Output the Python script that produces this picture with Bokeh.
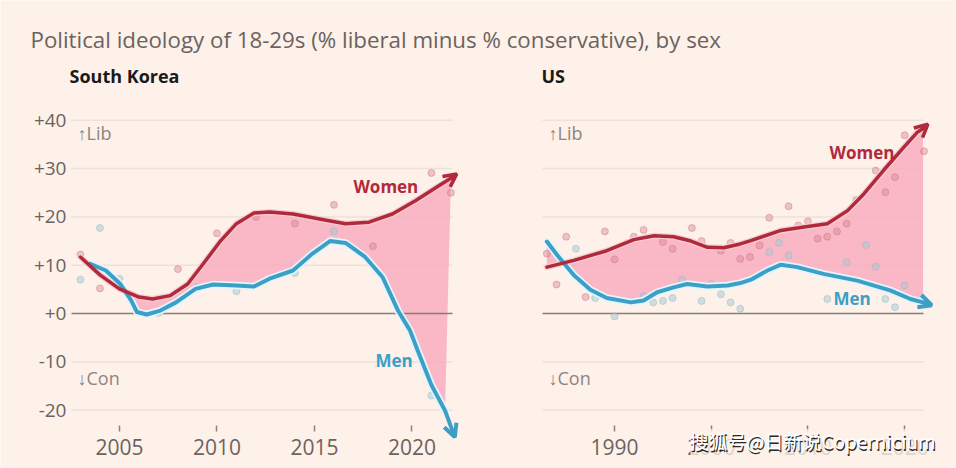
from bokeh.plotting import figure
from bokeh.models import Label, Arrow, OpenHead, FixedTicker, Range1d, LinearAxis

# ---------------- data ----------------
title_text = "Political ideology of 18-29s (% liberal minus % conservative), by sex"
panel_titles = ["South Korea", "US"]

y_ticks = [-20, -10, 0, 10, 20, 30, 40]
y_tick_labels = ["-20", "-10", "+0", "+10", "+20", "+30", "+40"]

sk_x_ticks = [2005, 2010, 2015, 2020]
us_x_ticks = [1990, 2000, 2010, 2020]

# South Korea smoothed trends
sk_women_years = [2003.0, 2004.0, 2005.0, 2006.0, 2006.7, 2007.6, 2008.5, 2009.3, 2010.2, 2011.0,
                  2011.9, 2012.7, 2013.9, 2015.6, 2016.6, 2017.8, 2019.0, 2020.2, 2021.4, 2022.0]
sk_women_trend = [11.7, 8.0, 5.1, 3.4, 3.0, 3.7, 6.1, 10.3, 15.1, 18.6,
                  20.8, 21.0, 20.6, 19.3, 18.6, 18.9, 20.6, 23.4, 26.5, 28.0]
sk_women_tip = (2022.3, 28.9)

sk_men_years = [2003.5, 2004.3, 2005.05, 2005.6, 2005.9, 2006.4, 2007.1, 2007.9, 2008.9, 2009.8,
                2011.0, 2011.9, 2012.7, 2013.9, 2014.9, 2015.8, 2016.6, 2017.6, 2018.5, 2019.3,
                2019.9, 2020.3, 2021.0, 2021.7]
sk_men_trend = [10.3, 8.9, 6.1, 2.7, 0.3, -0.2, 0.6, 2.3, 5.1, 6.0,
                5.8, 5.6, 7.2, 8.9, 12.4, 15.0, 14.6, 11.7, 7.5, 0.5,
                -3.5, -7.7, -14.8, -20.1]
sk_men_tip = (2022.2, -25.6)

# South Korea survey points
sk_women_pts_x = [2003, 2004, 2008, 2010, 2012, 2014, 2016, 2018, 2021, 2022]
sk_women_pts_y = [12.2, 5.2, 9.2, 16.6, 20.0, 18.6, 22.5, 13.9, 29.1, 25.0]
sk_men_pts_x = [2003, 2004, 2005, 2007, 2009, 2011, 2014, 2016, 2021]
sk_men_pts_y = [7.0, 17.7, 7.2, 0.1, 5.4, 4.6, 8.4, 17.0, -17.0]

# US smoothed trends
us_women_years = [1983.0, 1985.8, 1989.2, 1992.0, 1994.1, 1996.1, 1997.9, 1999.6, 2001.3, 2003.0,
                  2004.1, 2007.2, 2009.6, 2012.0, 2014.1, 2015.8, 2017.8, 2019.9, 2021.3, 2021.9]
us_women_trend = [9.6, 11.0, 13.0, 15.3, 16.1, 15.9, 15.0, 13.7, 13.6, 14.4,
                  15.1, 17.2, 17.9, 18.6, 21.3, 24.8, 29.6, 34.4, 37.5, 38.3]
us_women_tip = (2022.4, 39.2)

us_men_years = [1983.0, 1984.1, 1985.8, 1987.5, 1989.2, 1991.7, 1993.0, 1994.4, 1996.1, 1997.5,
                1999.6, 2001.7, 2003.0, 2004.1, 2005.8, 2007.2, 2008.9, 2011.6, 2015.1, 2018.5,
                2020.6, 2021.9]
us_men_trend = [14.9, 12.0, 7.9, 4.9, 3.2, 2.3, 2.7, 4.4, 5.4, 6.1,
                5.6, 5.8, 6.3, 7.0, 8.9, 10.1, 9.6, 8.2, 6.8, 4.8,
                3.0, 2.3]
us_men_tip = (2022.8, 1.7)

# US survey points
us_women_pts_x = [1983, 1984, 1985, 1987, 1989, 1990, 1992, 1993, 1995, 1996, 1998, 1999, 2001,
                  2002, 2003, 2004, 2005, 2006, 2008, 2009, 2010, 2011, 2012, 2013, 2014, 2015,
                  2017, 2018, 2019, 2020, 2022]
us_women_pts_y = [12.4, 6.0, 15.9, 3.4, 17.0, 11.2, 15.9, 17.3, 14.8, 13.4, 17.7, 15.0, 13.0,
                  14.6, 11.3, 11.7, 14.1, 19.8, 22.2, 18.2, 19.1, 15.5, 15.9, 17.0, 18.6, 23.5,
                  29.6, 25.1, 28.2, 36.9, 33.6]
us_men_pts_x = [1986, 1988, 1990, 1992, 1993, 1994, 1995, 1996, 1997, 1999, 2000, 2001, 2002,
                2003, 2006, 2007, 2008, 2012, 2014, 2016, 2017, 2018, 2019, 2020]
us_men_pts_y = [13.4, 3.2, -0.6, 2.5, 3.6, 2.3, 2.6, 3.2, 7.0, 2.6, 6.1, 4.0, 2.3,
                1.0, 12.7, 14.6, 12.0, 3.0, 10.6, 14.2, 9.7, 3.0, 1.3, 5.8]

# ---------------- layout / style ----------------
W, H = 956, 468
SK_SPAN = (2002.54, 2022.08)   # extent of the South Korea panel (gridlines)
US_SPAN = (1982.55, 2021.95)   # extent of the US panel (gridlines)

BG = "#fdf1e9"
GRID = "#eee1d8"
ZERO = "#8c7d73"
WOMEN = "#b12a3c"
MEN = "#3c9fc8"
FILL = "#f9a9bb"
GREY = "#6b6360"
FONT = "Open Sans"

p = figure(width=W, height=H, output_backend="svg", toolbar_location=None,
           x_range=Range1d(1998.90, 2047.93), y_range=Range1d(-32.09, 64.80),
           min_border=0, x_axis_type=None, y_axis_type=None)
p.extra_x_ranges = {"us": Range1d(1926.50, 2025.36)}
p.background_fill_color = BG
p.border_fill_color = BG
p.outline_line_color = None
p.grid.visible = False

grid_ticks = [t for t in y_ticks if t != 0]


def style_x_axis(ax, ticks):
    ax.ticker = FixedTicker(ticks=ticks)
    ax.fixed_location = -23.2
    ax.axis_line_color = None
    ax.major_tick_out = 6
    ax.major_tick_in = 0
    ax.minor_tick_line_color = None
    ax.major_tick_line_color = "#8d827b"
    ax.major_tick_line_width = 1.5
    ax.major_label_standoff = 7
    ax.major_label_text_font = FONT
    ax.major_label_text_font_size = "21px"
    ax.major_label_text_color = GREY


sk_xaxis = LinearAxis()
style_x_axis(sk_xaxis, sk_x_ticks)
p.add_layout(sk_xaxis, "below")

us_xaxis = LinearAxis(x_range_name="us")
style_x_axis(us_xaxis, us_x_ticks)
p.add_layout(us_xaxis, "below")

ya = LinearAxis()
ya.ticker = FixedTicker(ticks=y_ticks)
ya.major_label_overrides = {t: l for t, l in zip(y_ticks, y_tick_labels)}
ya.fixed_location = SK_SPAN[0]
ya.axis_line_color = None
ya.major_tick_line_color = None
ya.major_tick_out = 0
ya.major_tick_in = 0
ya.minor_tick_line_color = None
ya.major_label_standoff = 5
ya.major_label_text_font = FONT
ya.major_label_text_font_size = "19px"
ya.major_label_text_color = GREY
p.add_layout(ya, "left")


def draw_panel(span, rng, w_x, w_y, w_tip, m_x, m_y, m_tip, wp_x, wp_y, mp_x, mp_y,
               women_lbl, men_lbl):
    kw = {} if rng is None else {"x_range_name": rng}
    n = len(grid_ticks)
    p.segment(x0=[span[0]] * n, x1=[span[1]] * n, y0=grid_ticks, y1=grid_ticks,
              line_color=GRID, line_width=1.5, **kw)
    # gap fill between the two trends
    p.patch(w_x + m_x[::-1], w_y + m_y[::-1], fill_color=FILL, fill_alpha=0.8,
            line_color=None, **kw)
    p.segment(x0=[span[0]], x1=[span[1]], y0=[0], y1=[0], line_color=ZERO, line_width=1.5, **kw)
    # survey points
    p.scatter(wp_x, wp_y, size=7, fill_color="#d98a93", fill_alpha=0.45,
              line_color="#c26f7a", line_alpha=0.4, **kw)
    p.scatter(mp_x, mp_y, size=7, fill_color="#a3c9d5", fill_alpha=0.5,
              line_color="#88b5c3", line_alpha=0.4, **kw)
    # halos and trend lines
    p.line(m_x, m_y, line_color="#e4f5fb", line_width=7.5, line_join="round", line_cap="round", **kw)
    p.line(w_x, w_y, line_color="#f6cdd3", line_width=6, line_join="round", line_cap="round", **kw)
    p.line(m_x, m_y, line_color=MEN, line_width=4, line_join="round", line_cap="round", **kw)
    p.line(w_x, w_y, line_color=WOMEN, line_width=3.5, line_join="round", line_cap="round", **kw)

    p.add_layout(Arrow(end=OpenHead(size=13, line_color=WOMEN, line_width=3.5),
                       x_start=w_x[-1], y_start=w_y[-1], x_end=w_tip[0], y_end=w_tip[1],
                       line_color=WOMEN, line_width=3.5, **kw))
    p.add_layout(Arrow(end=OpenHead(size=13, line_color=MEN, line_width=4),
                       x_start=m_x[-1], y_start=m_y[-1], x_end=m_tip[0], y_end=m_tip[1],
                       line_color=MEN, line_width=4, **kw))

    lib_x = span[0] + (0.31 if rng is None else 0.62)
    p.add_layout(Label(x=lib_x, y=37.3, text="\u2191Lib", text_font=FONT, text_font_size="18px",
                       text_color="#8e8580", text_baseline="middle", **kw))
    p.add_layout(Label(x=lib_x, y=-13.3, text="\u2193Con", text_font=FONT, text_font_size="18px",
                       text_color="#8e8580", text_baseline="middle", **kw))
    p.add_layout(Label(x=women_lbl[0], y=women_lbl[1], text="Women", text_font=FONT,
                       text_font_size="17px", text_font_style="bold", text_color=WOMEN,
                       text_baseline="middle", **kw))
    p.add_layout(Label(x=men_lbl[0], y=men_lbl[1], text="Men", text_font=FONT,
                       text_font_size="17px", text_font_style="bold", text_color=MEN,
                       text_baseline="middle", **kw))


draw_panel(SK_SPAN, None, sk_women_years, sk_women_trend, sk_women_tip,
           sk_men_years, sk_men_trend, sk_men_tip,
           sk_women_pts_x, sk_women_pts_y, sk_men_pts_x, sk_men_pts_y,
           (2017.0, 26.3), (2018.13, -9.7))

draw_panel(US_SPAN, "us", us_women_years, us_women_trend, us_women_tip,
           us_men_years, us_men_trend, us_men_tip,
           us_women_pts_x, us_women_pts_y, us_men_pts_x, us_men_pts_y,
           (2012.23, 33.3), (2012.64, 3.1))

# titles
p.add_layout(Label(x=30, y=H - 39, x_units="screen", y_units="screen", text=title_text,
                   text_font=FONT, text_font_size="22.3px", text_color=GREY,
                   text_baseline="alphabetic"))
p.add_layout(Label(x=69, y=H - 75, x_units="screen", y_units="screen", text=panel_titles[0],
                   text_font=FONT, text_font_size="18px", text_font_style="bold",
                   text_color="#1a1a1a", text_baseline="middle"))
p.add_layout(Label(x=541, y=H - 75, x_units="screen", y_units="screen", text=panel_titles[1],
                   text_font=FONT, text_font_size="18px", text_font_style="bold",
                   text_color="#1a1a1a", text_baseline="middle"))

# source watermark seen on the image
wm = "搜狐号@日新说Copernicium"
p.add_layout(Label(x=812, y=27, x_units="screen", y_units="screen", text=wm,
                   x_offset=1, y_offset=-1,
                   text_font="Noto Sans CJK SC", text_font_size="19px", text_color="#2a2a2a",
                   background_fill_color=BG, background_fill_alpha=0.8,
                   text_baseline="middle", text_align="center"))
p.add_layout(Label(x=812, y=28, x_units="screen", y_units="screen", text=wm,
                   text_font="Noto Sans CJK SC", text_font_size="19px", text_color="white",
                   text_baseline="middle", text_align="center"))

from bokeh.embed import file_html
from bokeh.resources import INLINE
open("out.html", "w").write(file_html(p, INLINE))
